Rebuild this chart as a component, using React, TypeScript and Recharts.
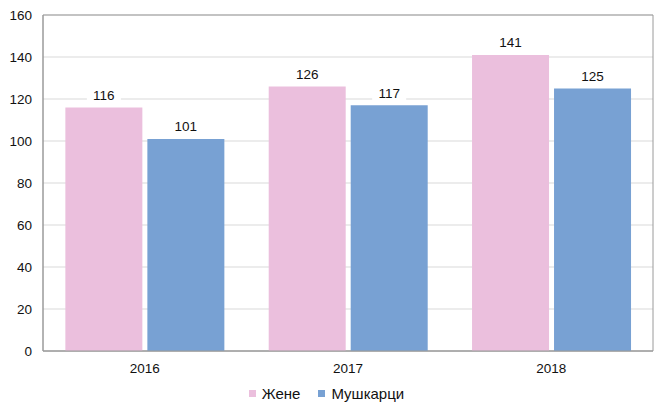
import { BarChart, Bar, XAxis, YAxis, CartesianGrid, Legend, LabelList, ReferenceArea } from 'recharts';

const years = ['2016', '2017', '2018'];
const zene = [116, 126, 141];
const muskarci = [101, 117, 125];
const yTicks = [0, 20, 40, 60, 80, 100, 120, 140, 160];

const data = years.map((year, i) => ({ year, zene: zene[i], muskarci: muskarci[i] }));

const FONT = '"Liberation Sans", Arial, sans-serif';

const ValueLabel = (props: any) => {
  const { x, y, width, value } = props;
  const cx = x + width / 2;
  const cy = y - 12;
  return (
    <g>
      <rect x={cx - 17} y={cy - 9} width={34} height={18} fill="#fff" />
      <text x={cx} y={cy} textAnchor="middle" dominantBaseline="central" fontSize={13.5} fill="#111" fontFamily={FONT}>
        {value}
      </text>
    </g>
  );
};

const LegendContent = (props: any) => {
  const { payload = [] } = props;
  return (
    <div style={{ display: 'flex', justifyContent: 'center', alignItems: 'center', height: 19, lineHeight: '19px', fontFamily: FONT, fontSize: 15, color: '#111' }}>
      {payload.map((p: any, i: number) => (
        <div key={i} style={{ display: 'flex', alignItems: 'center', marginLeft: i === 0 ? 0 : 18 }}>
          <span style={{ display: 'inline-block', width: 7, height: 7, background: p.color, marginRight: 6 }} />
          <span>{p.value}</span>
        </div>
      ))}
    </div>
  );
};

export default function App() {
  return (
    <div style={{ position: 'absolute', left: 0, top: 0, background: '#fff' }}>
      <BarChart
        width={656}
        height={403}
        data={data}
        margin={{ top: 15, right: 3, bottom: 0, left: 0 }}
        barCategoryGap="11%"
        barGap={5}
      >
        <CartesianGrid vertical={false} stroke="#d9d9d9" />
        <ReferenceArea y1={0} y2={160} fill="none" stroke="#9a9a9a" strokeWidth={1} ifOverflow="visible" />
        <XAxis
          dataKey="year"
          axisLine={{ stroke: '#9a9a9a' }}
          tickLine={false}
          height={33}
          tick={{ fontSize: 13.5, fill: '#111', fontFamily: FONT }}
          tickMargin={6}
        />
        <YAxis
          domain={[0, 160]}
          ticks={yTicks}
          width={43}
          axisLine={{ stroke: '#9a9a9a' }}
          tickLine={false}
          tickSize={0}
          tickMargin={11}
          tick={{ fontSize: 13.5, fill: '#111', fontFamily: FONT }}
        />
        <Legend verticalAlign="bottom" height={19} content={LegendContent} />
        <Bar dataKey="zene" name="Жене" fill="#ebbfdd" isAnimationActive={false}>
          <LabelList dataKey="zene" content={ValueLabel} />
        </Bar>
        <Bar dataKey="muskarci" name="Мушкарци" fill="#78a1d3" isAnimationActive={false}>
          <LabelList dataKey="muskarci" content={ValueLabel} />
        </Bar>
      </BarChart>
    </div>
  );
}
